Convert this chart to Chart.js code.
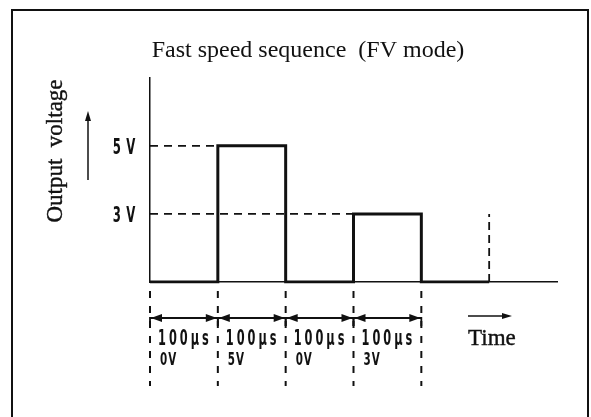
<!DOCTYPE html>
<html>
<head>
<meta charset="utf-8">
<title>Fast speed sequence (FV mode)</title>
<script src="https://cdn.jsdelivr.net/npm/chart.js@4.4.1/dist/chart.umd.min.js"></script>
<style>
  html, body { margin: 0; padding: 0; background: #fff; }
  canvas { display: block; }
</style>
</head>
<body>
<canvas id="seq" width="591" height="417"></canvas>
<script>
// step times (µs) and the output level held from each of them
const stepTimes = [0, 100, 200, 300, 400, 500]
const stepLevels = ['0 V', '5 V', '0 V', '3 V', '0 V', '0 V']

// voltage axis levels, bottom to top; the blank one leaves headroom above 5 V
const voltLevels = ['0 V', '3 V', '5 V', '']
const shownLevels = ['5 V', '3 V']

// captions for each 100 µs interval under the time axis
const intervalTimes = ['100μs', '100μs', '100μs', '100μs']
const intervalVolts = ['0V', '5V', '0V', '3V']

const timeMax = 600

const INK = '#111'
const SERIF = '"Liberation Serif", "DejaVu Serif", serif'
const NARROW = '"DejaVu Sans Condensed", "DejaVu Sans", sans-serif'

function narrowText(ctx, text, x, y, px, squeeze, align, spacing) {
  ctx.save()
  ctx.translate(x, y)
  ctx.scale(squeeze, 1)
  ctx.font = `bold ${px}px ${NARROW}`
  ctx.letterSpacing = (spacing || 0) + 'px'
  ctx.textAlign = align
  ctx.textBaseline = 'alphabetic'
  ctx.fillText(text, 0, 0)
  ctx.restore()
}

function serifText(ctx, text, x, y, align) {
  ctx.font = `23px ${SERIF}`
  ctx.textAlign = align
  ctx.textBaseline = 'alphabetic'
  ctx.lineWidth = 0.4
  ctx.fillText(text, x, y)
  ctx.strokeText(text, x, y)
}

function arrowHead(ctx, x, y, dir, len, half) {
  // dir: angle in radians the arrow points to
  ctx.save()
  ctx.translate(x, y)
  ctx.rotate(dir)
  ctx.beginPath()
  ctx.moveTo(0, 0)
  ctx.lineTo(-len, -half)
  ctx.lineTo(-len, half)
  ctx.closePath()
  ctx.fill()
  ctx.restore()
}

const sequenceDecor = {
  id: 'sequenceDecor',
  beforeDraw(chart) {
    const { ctx, width, height } = chart
    ctx.save()
    ctx.fillStyle = '#fff'
    ctx.fillRect(0, 0, width, height)
    // open frame, runs off the bottom
    ctx.strokeStyle = INK
    ctx.lineWidth = 2
    ctx.beginPath()
    ctx.moveTo(12, height + 5)
    ctx.lineTo(12, 10)
    ctx.lineTo(588, 10)
    ctx.lineTo(588, height + 5)
    ctx.stroke()
    ctx.restore()
  },
  afterDraw(chart) {
    const { ctx, scales: { x, y } } = chart
    const base = y.getPixelForValue('0 V')
    ctx.save()
    ctx.strokeStyle = INK
    ctx.fillStyle = INK

    // dashed guides from the voltage axis to the edge where each level starts
    ctx.lineWidth = 1.8
    ctx.setLineDash([8, 6])
    shownLevels.forEach(level => {
      const py = y.getPixelForValue(level)
      const px = x.getPixelForValue(stepTimes[stepLevels.indexOf(level)])
      ctx.beginPath()
      ctx.moveTo(x.left, py)
      ctx.lineTo(px, py)
      ctx.stroke()
    })

    // end-of-sequence marker
    const lastLevel = stepLevels.filter(l => l !== '0 V').pop()
    const endX = x.getPixelForValue(stepTimes[stepTimes.length - 1])
    ctx.setLineDash([8, 5])
    ctx.beginPath()
    ctx.moveTo(endX, base)
    ctx.lineTo(endX, y.getPixelForValue(lastLevel))
    ctx.stroke()

    // interval boundaries below the axis
    const bounds = stepTimes.slice(0, intervalTimes.length + 1).map(t => x.getPixelForValue(t))
    ctx.lineWidth = 2
    ctx.setLineDash([7, 8])
    bounds.forEach(bx => {
      ctx.beginPath()
      ctx.moveTo(bx, base + 9)
      ctx.lineTo(bx, base + 104)
      ctx.stroke()
    })
    ctx.setLineDash([])

    // double arrows spanning each interval
    const arrowY = base + 36
    ctx.lineWidth = 1.8
    for (let i = 0; i < intervalTimes.length; i++) {
      const x0 = bounds[i], x1 = bounds[i + 1]
      ctx.beginPath()
      ctx.moveTo(x0, arrowY + 8)
      ctx.lineTo(x0, arrowY)
      ctx.lineTo(x1, arrowY)
      ctx.lineTo(x1, arrowY + 8)
      ctx.stroke()
      arrowHead(ctx, x0 + 1, arrowY, Math.PI, 11, 4)
      arrowHead(ctx, x1 - 1, arrowY, 0, 11, 4)

      narrowText(ctx, intervalTimes[i], x0 + 8, base + 63, 21, 0.6, 'left', 5)
      narrowText(ctx, intervalVolts[i], x0 + 10, base + 83, 18, 0.64, 'left', 1.5)
    }

    // voltage tick labels
    y.ticks.forEach((tick, i) => {
      const label = voltLevels[tick.value]
      if (!shownLevels.includes(label)) return
      narrowText(ctx, label, 136, y.getPixelForTick(i) + 8, 21, 0.62, 'right', 1)
    })

    // time axis caption with its arrow
    ctx.lineWidth = 1.5
    ctx.beginPath()
    ctx.moveTo(468, arrowY - 2)
    ctx.lineTo(505, arrowY - 2)
    ctx.stroke()
    arrowHead(ctx, 512, arrowY - 2, 0, 10, 3)
    serifText(ctx, 'Time', 468, base + 63, 'left')

    // voltage axis caption with its arrow
    ctx.lineWidth = 1.5
    ctx.beginPath()
    ctx.moveTo(88, 180)
    ctx.lineTo(88, 118)
    ctx.stroke()
    arrowHead(ctx, 88, 111, -Math.PI / 2, 10, 3)
    ctx.save()
    ctx.translate(62, 151)
    ctx.rotate(-Math.PI / 2)
    serifText(ctx, 'Output  voltage', 0, 0, 'center')
    ctx.restore()

    ctx.restore()
  }
}

const ctx = document.getElementById('seq').getContext('2d')

new Chart(ctx, {
  type: 'line',
  data: {
    datasets: [{
      label: 'Output voltage',
      data: stepTimes.map((t, i) => ({ x: t, y: stepLevels[i] })),
      stepped: true,
      borderColor: INK,
      borderWidth: 3,
      borderJoinStyle: 'miter',
      pointRadius: 0,
      fill: false
    }]
  },
  options: {
    responsive: false,
    devicePixelRatio: 1,
    animation: false,
    events: [],
    layout: { padding: { left: 59, right: 34, top: 0, bottom: 0 } },
    plugins: {
      legend: { display: false },
      tooltip: { enabled: false },
      title: {
        display: true,
        text: 'Fast speed sequence  (FV mode)',
        color: INK,
        font: { family: SERIF, size: 24, weight: 'normal' },
        padding: { top: 36, bottom: 13 }
      }
    },
    scales: {
      x: {
        type: 'linear',
        min: 0,
        max: timeMax,
        grid: { display: false, drawTicks: false },
        border: { color: INK, width: 1.5 },
        ticks: { display: false },
        afterFit(scale) { scale.height = 135 }
      },
      y: {
        type: 'category',
        labels: voltLevels,
        reverse: true,
        offset: false,
        grid: { display: false, drawTicks: false },
        border: { color: INK, width: 1.5 },
        ticks: { display: false },
        afterFit(scale) { scale.width = 91 }
      }
    }
  },
  plugins: [sequenceDecor]
})
</script>
</body>
</html>
